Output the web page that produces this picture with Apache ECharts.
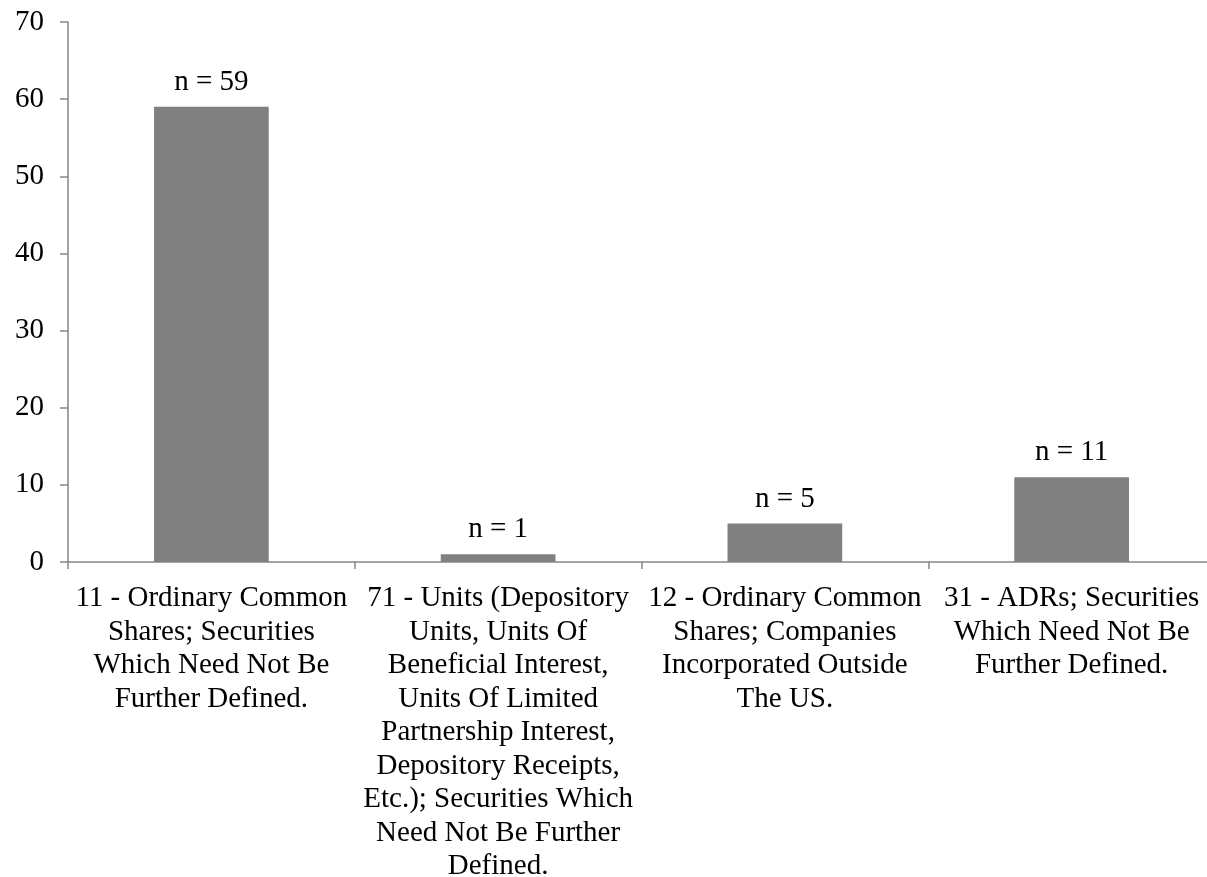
<!DOCTYPE html>
<html>
<head>
<meta charset="utf-8">
<script src="https://cdn.jsdelivr.net/npm/echarts@6/dist/echarts.min.js"></script>
<style>
  html, body { margin: 0; padding: 0; background: #fff; }
  #chart { width: 1207px; height: 877px; }
</style>
</head>
<body>
<div id="chart"></div>
<script>
// share classes, wrapped the way the original axis shows them
var categories = [
  '11 - Ordinary Common\nShares; Securities\nWhich Need Not Be\nFurther Defined.',
  '71 - Units (Depository\nUnits, Units Of\nBeneficial Interest,\nUnits Of Limited\nPartnership Interest,\nDepository Receipts,\nEtc.); Securities Which\nNeed Not Be Further\nDefined.',
  '12 - Ordinary Common\nShares; Companies\nIncorporated Outside\nThe US.',
  '31 - ADRs; Securities\nWhich Need Not Be\nFurther Defined.'
];
var counts = [59, 1, 5, 11];

var font = '"Liberation Serif", "Times New Roman", serif';
var axisGrey = '#868686';

var myChart = echarts.init(document.getElementById('chart'));
var option = {
  backgroundColor: '#fff',
  animation: false,
  grid: {
    left: 68,
    right: -8,
    top: 22,
    bottom: 315,
    containLabel: false,
    outerBoundsMode: 'none'
  },
  xAxis: {
    type: 'category',
    data: categories,
    axisLine: { lineStyle: { color: axisGrey, width: 1.5 } },
    axisTick: { show: true, length: 7, interval: 0, lineStyle: { color: axisGrey, width: 1.5 } },
    axisLabel: {
      interval: 0,
      margin: 20,
      color: '#000',
      fontFamily: font,
      fontSize: 29,
      lineHeight: 33.5,
      align: 'center'
    }
  },
  yAxis: {
    type: 'value',
    min: 0,
    max: 70,
    interval: 10,
    splitLine: { show: false },
    axisLine: { show: true, lineStyle: { color: axisGrey, width: 1.5 } },
    axisTick: { show: true, length: 8, lineStyle: { color: axisGrey, width: 1.5 } },
    axisLabel: {
      margin: 24,
      color: '#000',
      fontFamily: font,
      fontSize: 29
    }
  },
  series: [
    {
      type: 'bar',
      data: counts,
      barWidth: '40%',
      itemStyle: { color: '#808080' },
      label: {
        show: true,
        position: 'top',
        distance: 10,
        color: '#000',
        fontFamily: font,
        fontSize: 29,
        formatter: function (p) { return 'n = ' + p.value; }
      }
    }
  ]
};
myChart.setOption(option);
</script>
</body>
</html>
